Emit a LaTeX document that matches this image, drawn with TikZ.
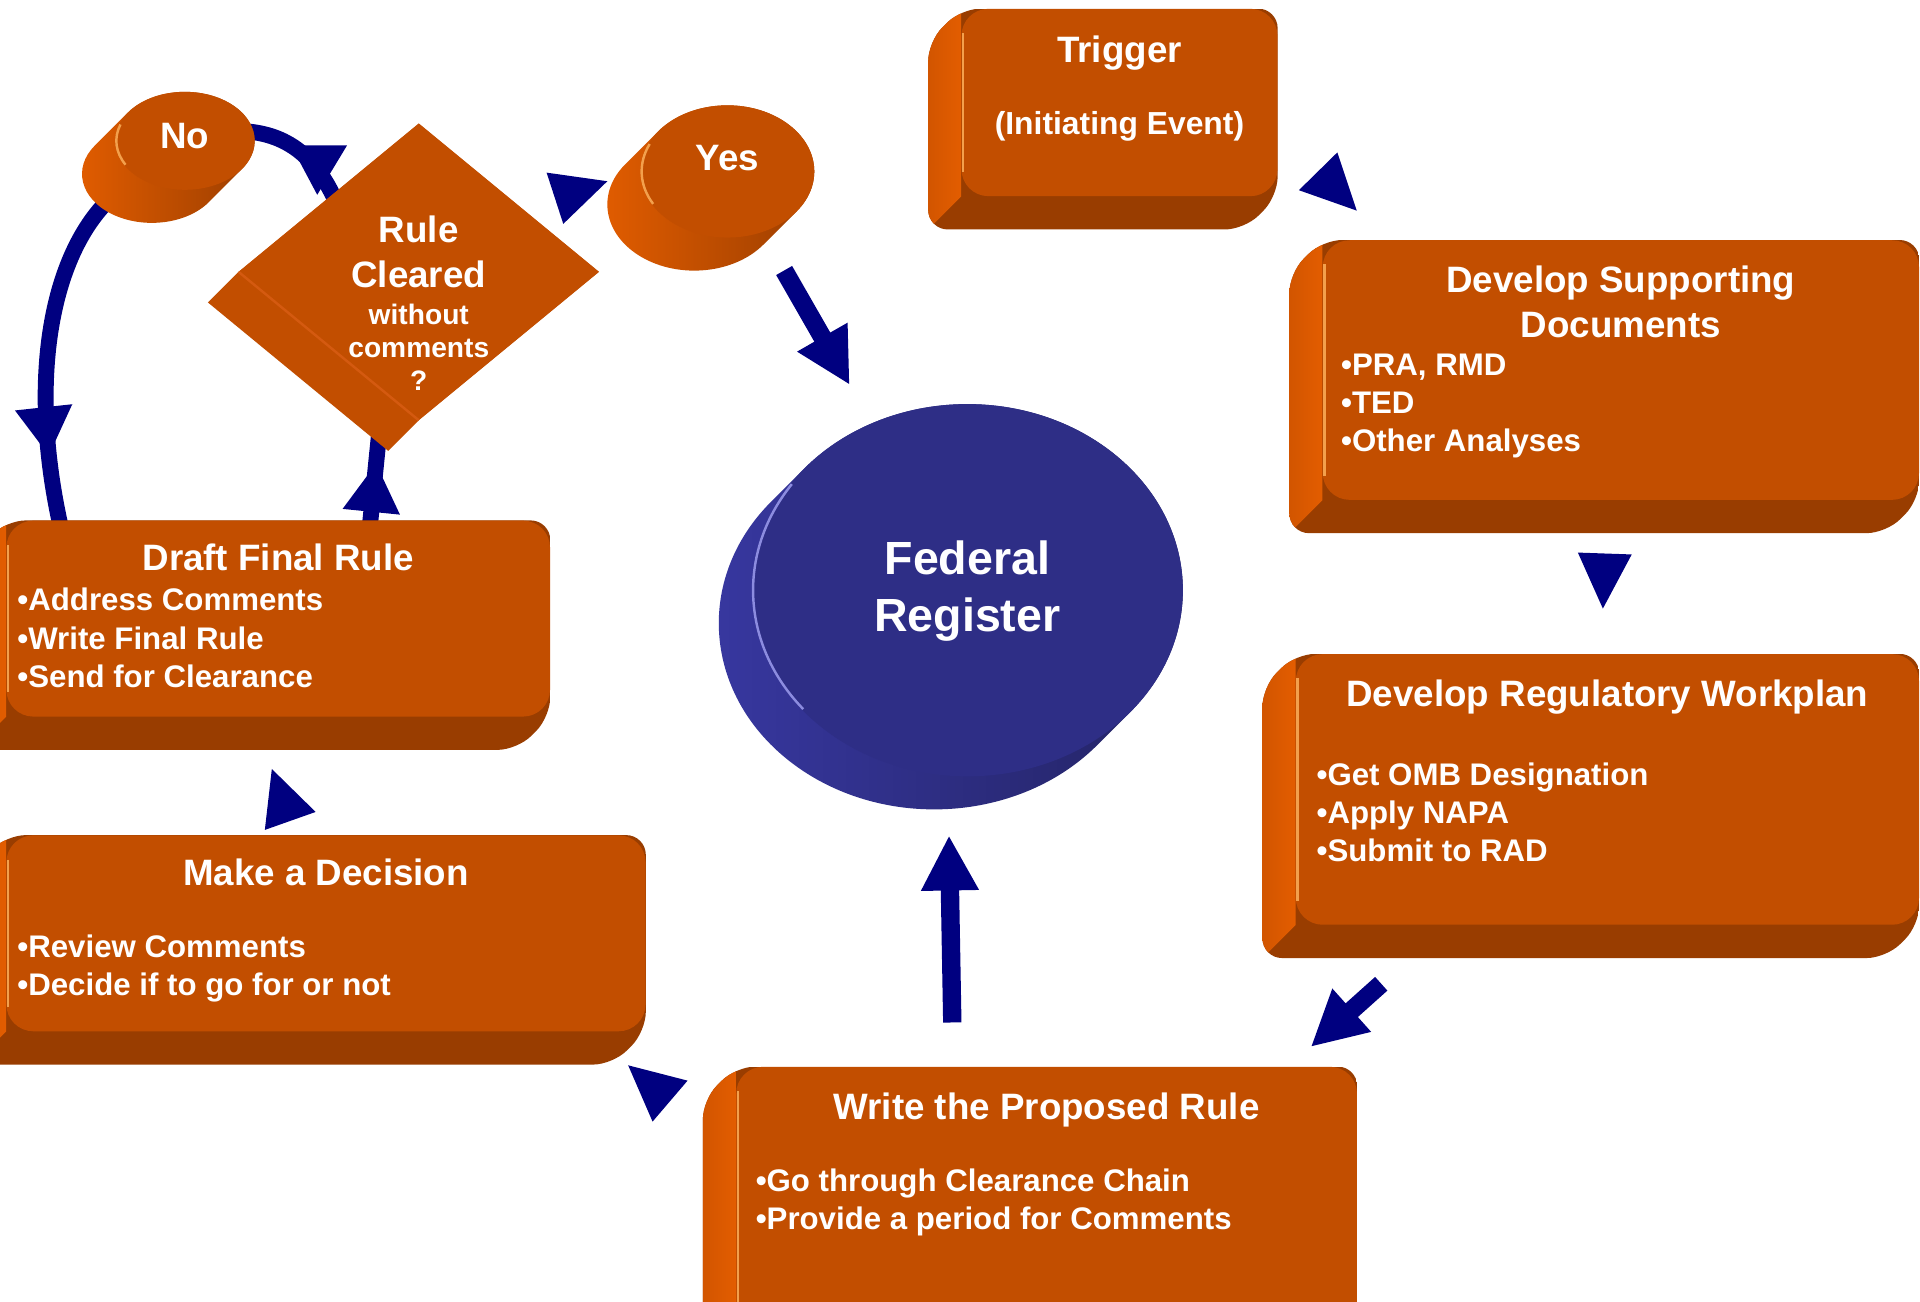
\documentclass[tikz,border=0pt]{standalone}
\usepackage{fontspec}
\setmainfont{Liberation Sans}
\usetikzlibrary{shapes.geometric,arrows.meta,decorations.markings,backgrounds,calc}

\definecolor{rust}{HTML}{C24E00}
\definecolor{rustlit}{HTML}{E35D00}
\definecolor{rustside}{HTML}{D25500}
\definecolor{rustdark}{HTML}{993D00}
\definecolor{rustglint}{HTML}{F3A04C}
\definecolor{rustedge}{HTML}{D45A10}
\definecolor{regface}{HTML}{2E2E86}
\definecolor{reglit}{HTML}{3838A2}
\definecolor{regdark}{HTML}{222260}
\definecolor{regglint}{HTML}{8C8CE0}
\definecolor{navy}{HTML}{000080}

% sides of a raised box, drawn behind its face
\newcommand{\slabbody}[1]{%
  \begin{scope}
    \clip[rounded corners=16pt] (#1.north east) -- (#1.north west) -- ++(-27,27)
      -- ($(#1.south west)+(-27,27)$) -- ($(#1.south east)+(-27,27)$) -- (#1.south east) -- cycle;
    \fill[rustdark] ($(#1.north west)+(-30,0)$) rectangle ($(#1.south east)+(0,30)$);
    \shade[left color=rustside, right color=rustlit] (#1.north west) -- ++(-27,27)
      -- ($(#1.south west)+(-27,27)$) -- (#1.south west) -- cycle;
  \end{scope}}

% rim of a round button: node, x radius, y radius, light, dark
\newcommand{\puckbody}[5]{%
  \pgfmathsetmacro{\rim}{atan(#3/#2)}%
  \shade[left color=#4, right color=#5]
    ($(#1.center)+(-27,27)+(\rim:#2 and #3)$)
    arc[start angle=\rim, end angle=\rim+180, x radius=#2, y radius=#3]
    -- ($(#1.center)+(\rim+180:#2 and #3)$)
    arc[start angle=\rim+180, end angle=\rim+360, x radius=#2, y radius=#3] -- cycle;}

% loose arrow head: tip, direction
\newcommand{\headat}[2]{\fill[navy, shift={#1}, rotate=#2] (0,0) -- (-45,22) -- (-45,-22) -- cycle;}

\begin{document}
\begin{tikzpicture}[x=1pt, y=-1pt,
  slab/.style={fill=rust, rounded corners=22pt, inner sep=0pt, anchor=north west},
  puck/.style={ellipse, fill=#1, inner sep=0pt},
  headline/.style={text=white, inner sep=0pt, font=\fontsize{30}{37}\selectfont\bfseries, align=center, anchor=north},
  bullets/.style={text=white, inner sep=0pt, font=\fontsize{25.5}{31}\selectfont\bfseries, align=left, anchor=north west},
  ring/.style={draw=navy, line width=13pt},
  midtip/.style={postaction={decorate}, decoration={markings, mark=at position #1 with {\arrow{Triangle[length=40pt, width=44pt]}}}},
  thrust/.style={draw=navy, line width=15pt, -{Triangle[length=45pt, width=44pt]}},
  glint/.style={rustglint, line width=2pt}]

\useasboundingbox (0,0) rectangle (1568,1063);

% faces
\node[slab, minimum width=258pt, minimum height=153pt] (trigger) at (785,7) {};
\node[slab, minimum width=487pt, minimum height=212pt] (dsd) at (1080,196) {};
\node[slab, minimum width=509pt, minimum height=221pt] (drw) at (1058,534) {};
\node[slab, minimum width=507pt, minimum height=230pt] (wpr) at (601,871) {};
\node[slab, minimum width=522pt, minimum height=160pt] (mad) at (5,682) {};
\node[slab, minimum width=444pt, minimum height=160pt] (dfr) at (5,425) {};
\node[diamond, fill=rust, inner sep=0pt, minimum width=294pt, minimum height=242pt] (rule) at (342,222) {};
\node[puck=rust, minimum width=114pt, minimum height=80pt] (no) at (151,115) {};
\node[puck=rust, minimum width=142pt, minimum height=108pt] (yes) at (594,140) {};
\node[puck=regface, minimum width=352pt, minimum height=304pt] (fr) at (790,482) {};

\begin{pgfonlayer}{background}
  \fill[white] (0,0) rectangle (1568,1063);
  % clearance loop
  \draw[ring, midtip=0.6] ([shift={(8,8)}]rule.north west) .. controls (262,135) and (240,108) .. ([shift={(-13,-8)}]no.east);
  \draw[ring, midtip=0.8] ([shift={(-6,7)}]no.south west) .. controls (45,190) and (20,300) .. ([shift={(45,7)}]dfr.north west);
  \draw[ring, midtip=0.65] ([shift={(297,5)}]dfr.north west) -- ([shift={(-32,7)}]rule.south);
  % sides
  \foreach \b in {trigger,dsd,drw,wpr,mad,dfr} {\slabbody{\b}}
  \fill[rust] (rule.north) -- (rule.east) -- (rule.south) -- ++(-25,25)
    -- ($(rule.west)+(-25,25)$) -- (rule.west) -- cycle;
  \puckbody{no}{57}{40}{rustlit}{rustdark}
  \puckbody{yes}{71}{54}{rustlit}{rustdark}
  \puckbody{fr}{176}{152}{reglit}{regdark}
\end{pgfonlayer}

% light edges
\foreach \b in {trigger,dsd,drw,wpr,mad,dfr}
  \draw[glint] ([shift={(1.5,20)}]\b.north west) -- ([shift={(1.5,-20)}]\b.south west);
\draw[rustedge, line width=2pt] (rule.west) -- (rule.south);
\draw[glint] (no.center) ++(200:56 and 39) arc[start angle=200, end angle=150, x radius=56, y radius=39];
\draw[glint] (yes.center) ++(205:70 and 53) arc[start angle=205, end angle=150, x radius=70, y radius=53];
\draw[regglint, line width=2pt] (fr.center) ++(215:175 and 151) arc[start angle=215, end angle=140, x radius=175, y radius=151];

% texts
\node[headline] (trigger-t) at ([yshift=-22pt]trigger.north) {Trigger};
\node[headline, font=\fontsize{26}{31}\selectfont\bfseries] (trigger-s) at ([yshift=-84pt]trigger.north) {(Initiating Event)};
\node[headline] (dsd-t) at ([yshift=-21pt]dsd.north) {Develop Supporting\\Documents};
\node[bullets] (dsd-i) at ([shift={(15,93)}]dsd.north west) {•PRA, RMD\\•TED\\•Other Analyses};
\node[headline] (drw-t) at ([yshift=-21pt]drw.north) {Develop Regulatory Workplan};
\node[bullets] (drw-i) at ([shift={(17,89)}]drw.north west) {•Get OMB Designation\\•Apply NAPA\\•Submit to RAD};
\node[headline] (wpr-t) at ([yshift=-21pt]wpr.north) {Write the Proposed Rule};
\node[bullets] (wpr-i) at ([shift={(16,83)}]wpr.north west) {•Go through Clearance Chain\\•Provide a period for Comments};
\node[headline] (mad-t) at ([yshift=-19pt]mad.north) {Make a Decision};
\node[bullets] (mad-i) at ([shift={(9,81)}]mad.north west) {•Review Comments\\•Decide if to go for or not};
\node[headline] (dfr-t) at ([yshift=-19pt]dfr.north) {Draft Final Rule};
\node[bullets, font=\fontsize{25.5}{31.5}\selectfont\bfseries] (dfr-i) at ([shift={(9,55)}]dfr.north west) {•Address Comments\\•Write Final Rule\\•Send for Clearance};
\node[headline] (rule-t) at ([yshift=-75pt]rule.north) {Rule\\Cleared};
\node[headline, font=\fontsize{23}{27}\selectfont\bfseries] (rule-s) at ([yshift=-147pt]rule.north) {without\\comments\\?};
\node[headline, anchor=center] (no-t) at ([yshift=4pt]no) {No};
\node[headline, anchor=center] (yes-t) at ([yshift=11pt]yes) {Yes};
\node[headline, font=\fontsize{38}{46}\selectfont\bfseries] (fr-t) at ([yshift=-112pt]fr.north) {Federal\\Register};

% block arrows
\draw[thrust, shorten <=36pt, shorten >=36pt] (yes) -- (fr);
\draw[thrust] ([shift={(-77,-36)}]wpr.north) -- ([shift={(-15,48)}]fr.south);
\draw[thrust] ([shift={(70,48)}]drw.south west) -- ([shift={(-38,-16)}]wpr.north east);

% heads between the steps
\headat{(1108,172)}{-45.5}
\headat{(1309,497)}{-92}
\headat{(513,870)}{139.5}
\headat{(222,628)}{109.5}
\headat{(496,148)}{18}

\end{tikzpicture}
\end{document}
